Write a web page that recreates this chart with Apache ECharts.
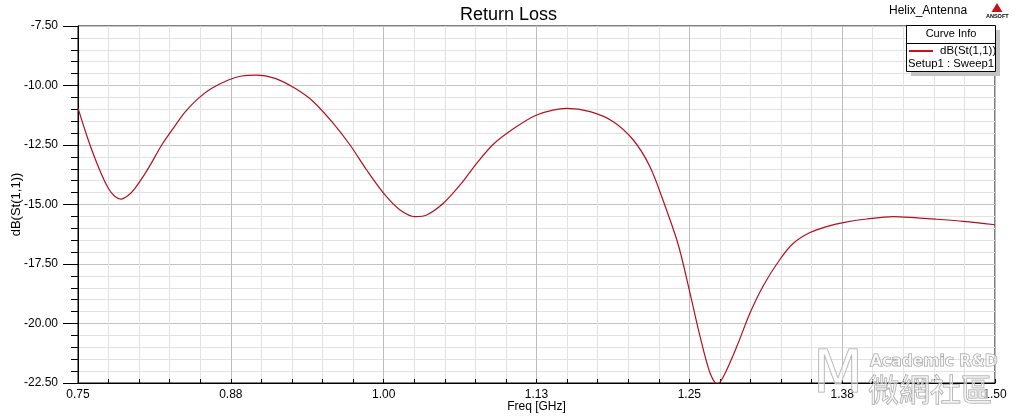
<!DOCTYPE html>
<html>
<head>
<meta charset="utf-8">
<script src="https://cdn.jsdelivr.net/npm/echarts@6/dist/echarts.min.js"></script>
<style>
html,body{margin:0;padding:0;background:#fff;}
#chart{width:1017px;height:417px;}
</style>
</head>
<body>
<div id="chart"></div>
<script>
// Frequency samples [GHz]
const freqGHz = [
  0.750, 0.7584, 0.7666, 0.7748, 0.7800, 0.7852, 0.7910, 0.7966, 0.8075, 0.8185,
  0.8293, 0.8375, 0.8484, 0.8594, 0.8730, 0.8839, 0.8962, 0.9112, 0.9275, 0.9425,
  0.9588, 0.9725, 0.9861, 1.0011, 1.0134, 1.0257, 1.0352, 1.0488, 1.0625, 1.0761,
  1.0897, 1.1061, 1.1252, 1.1497, 1.1688, 1.1878, 1.2042, 1.2178, 1.2287, 1.2410,
  1.2506, 1.2588, 1.2670, 1.2729, 1.2779, 1.2888, 1.2997, 1.3106, 1.3242, 1.3351,
  1.3487, 1.3623, 1.3759, 1.3950, 1.4168, 1.4305, 1.4523, 1.4741, 1.5000
];
// dB(St(1,1))
const returnLossDb = [
  -10.95, -12.29, -13.41, -14.32, -14.65, -14.77, -14.62, -14.32, -13.48, -12.50,
  -11.70, -11.12, -10.54, -10.12, -9.77, -9.60, -9.56, -9.70, -10.12, -10.68,
  -11.59, -12.50, -13.55, -14.60, -15.23, -15.51, -15.44, -14.95, -14.18, -13.27,
  -12.47, -11.82, -11.24, -10.96, -11.10, -11.52, -12.29, -13.41, -14.85, -16.70,
  -18.73, -20.55, -22.09, -22.55, -22.23, -20.97, -19.55, -18.40, -17.30, -16.63,
  -16.18, -15.93, -15.76, -15.61, -15.51, -15.54, -15.62, -15.71, -15.85
];
const titleText = 'Return Loss';
const projectName = 'Helix_Antenna';
const seriesName = 'dB(St(1,1))';
const sweepName = 'Setup1 : Sweep1';
const xAxisName = 'Freq [GHz]';
const yAxisName = 'dB(St(1,1))';

const FONT = '"Liberation Sans", Arial, sans-serif';
const chart = echarts.init(document.getElementById('chart'), null, {renderer: 'canvas'});

const option = {
  animation: false,
  backgroundColor: '#ffffff',
  title: {
    text: titleText, left: 'center', top: 1,
    textStyle: {fontFamily: FONT, fontSize: 18, fontWeight: 'normal', color: '#000'}
  },
  grid: {
    left: 78, right: 22, top: 26, bottom: 34,
    outerBoundsMode: 'none', containLabel: false,
    show: true, borderColor: '#000', borderWidth: 1, backgroundColor: 'transparent'
  },
  legend: {
    data: [seriesName], left: 909, top: 45, z: 20, padding: 0,
    icon: 'rect', itemWidth: 24, itemHeight: 2, itemGap: 0,
    textStyle: {fontFamily: FONT, fontSize: 11.5, color: '#000', padding: [0, 0, 0, 2]},
    selectedMode: false
  },
  xAxis: {
    type: 'value', min: 0.75, max: 1.5, interval: 0.125,
    name: xAxisName, nameLocation: 'middle', nameGap: 18, nameMoveOverlap: false,
    nameTextStyle: {fontFamily: FONT, fontSize: 12, color: '#000'},
    axisLine: {show: true, lineStyle: {color: '#000', width: 1}},
    axisTick: {show: true, inside: true, length: 4, lineStyle: {color: '#000'}},
    minorTick: {show: true, splitNumber: 5, length: 4, lineStyle: {color: '#000'}},
    axisLabel: {margin: 6, fontFamily: FONT, fontSize: 12, color: '#000',
      formatter: v => v.toFixed(2)},
    splitLine: {show: true, lineStyle: {color: '#bdbdbd', width: 1}},
    minorSplitLine: {show: true, lineStyle: {color: '#e2e2e2', width: 1}}
  },
  yAxis: {
    type: 'value', min: -22.5, max: -7.5, interval: 2.5,
    name: yAxisName, nameLocation: 'middle', nameGap: 55, nameMoveOverlap: false,
    nameTextStyle: {fontFamily: FONT, fontSize: 13, color: '#000'},
    axisLine: {show: true, lineStyle: {color: '#000', width: 1}},
    axisTick: {show: true, inside: false, length: 15, lineStyle: {color: '#000'}},
    minorTick: {show: true, splitNumber: 5, length: 7, lineStyle: {color: '#000'}},
    axisLabel: {margin: 20, fontFamily: FONT, fontSize: 12, color: '#000',
      formatter: v => v.toFixed(2)},
    splitLine: {show: true, lineStyle: {color: '#c4c4c4', width: 1}},
    minorSplitLine: {show: true, lineStyle: {color: '#e2e2e2', width: 1}}
  },
  graphic: [
    // project name & logo
    {type: 'text', left: 889, top: 5, z: 5,
      style: {text: projectName, font: '12px ' + FONT, fill: '#000'}},
    {type: 'polygon', z: 5, shape: {points: [[997, 3], [991.5, 12], [1002.5, 12]]},
      style: {fill: '#c0141e'}},
    {type: 'text', left: 986, top: 13, z: 5,
      style: {text: 'ANSOFT', font: 'bold 5.5px ' + FONT, fill: '#000'}},
    // curve info box
    {type: 'rect', z: 8, shape: {x: 911, y: 30, width: 89, height: 46},
      style: {fill: '#c4c4c4'}},
    {type: 'rect', z: 9, shape: {x: 906.5, y: 25.5, width: 89, height: 46},
      style: {fill: '#fff', stroke: '#000', lineWidth: 1}},
    {type: 'line', z: 9, shape: {x1: 906.5, y1: 43.5, x2: 995.5, y2: 43.5},
      style: {stroke: '#000', lineWidth: 1}},
    {type: 'text', z: 10, x: 951, y: 34, style: {text: 'Curve Info', font: '11px ' + FONT,
      fill: '#000', textAlign: 'center', textVerticalAlign: 'middle'}},
    {type: 'text', z: 10, x: 908, y: 63.5, style: {text: sweepName, font: '11.3px ' + FONT,
      fill: '#000', textAlign: 'left', textVerticalAlign: 'middle'}},
    // watermark
    {type: 'text', z: 30, x: 813, y: 377, style: {text: 'M', font: '58px "DejaVu Sans"',
      fill: 'rgba(255,255,255,0.5)', stroke: '#a8a8a8', lineWidth: 1,
      textAlign: 'left', textVerticalAlign: 'middle'}},
    {type: 'text', z: 30, x: 870, y: 362, style: {text: 'Academic R&D', font: 'bold 15.5px "DejaVu Sans"',
      fill: 'rgba(255,255,255,0.6)', stroke: '#9a9a9a', lineWidth: 1,
      textAlign: 'left', textVerticalAlign: 'middle'}},
    {type: 'text', z: 30, x: 868, y: 389, style: {text: '微網社區', font: '31px "Noto Sans CJK TC"',
      fill: 'rgba(255,255,255,0.5)', stroke: '#a0a0a0', lineWidth: 1,
      textAlign: 'left', textVerticalAlign: 'middle'}}
  ],
  series: [{
    name: seriesName, type: 'line',
    data: freqGHz.map((f, i) => [f, returnLossDb[i]]),
    showSymbol: false, smooth: 0.3, clip: true,
    lineStyle: {color: '#b3101c', width: 1.2},
    itemStyle: {color: '#cc1020'},
    z: 3
  }]
};
chart.setOption(option);
</script>
</body>
</html>
